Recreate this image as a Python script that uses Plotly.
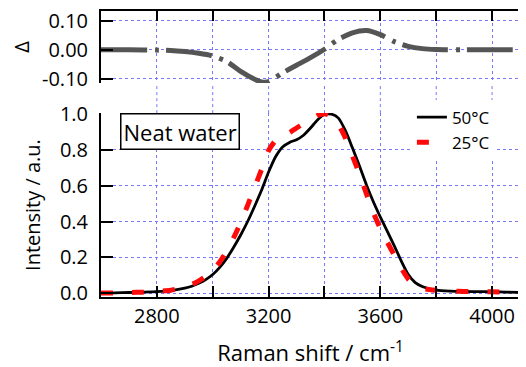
import plotly.graph_objects as go

# ---- data ----
shift_50 = [2600, 2650, 2700, 2750, 2800, 2850, 2900, 2925, 2950, 2975, 3000, 3025, 3050, 3075,
            3100, 3125, 3150, 3175, 3200, 3225, 3250, 3275, 3300, 3325, 3350, 3375, 3400, 3425,
            3450, 3475, 3500, 3525, 3550, 3575, 3600, 3625, 3650, 3675, 3700, 3725, 3750, 3775,
            3800, 3850, 3900, 3950, 4000, 4050, 4100]
int_50 = [0.002, 0.003, 0.005, 0.007, 0.010, 0.016, 0.029, 0.040, 0.056, 0.077, 0.105, 0.145,
          0.195, 0.257, 0.325, 0.400, 0.485, 0.575, 0.675, 0.760, 0.815, 0.840, 0.855, 0.880,
          0.920, 0.965, 0.995, 0.997, 0.975, 0.905, 0.810, 0.710, 0.605, 0.510, 0.425, 0.345,
          0.265, 0.180, 0.105, 0.060, 0.038, 0.026, 0.018, 0.013, 0.011, 0.010, 0.009, 0.007, 0.005]
int_25 = [0.002, 0.003, 0.005, 0.007, 0.011, 0.018, 0.035, 0.050, 0.070, 0.095, 0.127, 0.175,
          0.235, 0.310, 0.395, 0.490, 0.590, 0.690, 0.795, 0.850, 0.875, 0.895, 0.920, 0.945,
          0.965, 0.990, 1.000, 0.985, 0.940, 0.865, 0.765, 0.665, 0.555, 0.450, 0.360, 0.285,
          0.212, 0.140, 0.080, 0.045, 0.028, 0.021, 0.017, 0.013, 0.011, 0.010, 0.009, 0.007, 0.005]

shift_delta = [2600, 2700, 2800, 2850, 2900, 2950, 3000, 3050, 3100, 3150, 3175, 3200, 3250,
               3300, 3350, 3400, 3450, 3500, 3550, 3600, 3650, 3700, 3750, 3800, 3900, 4000, 4100]
delta = [0.0, 0.0, -0.001, -0.002, -0.006, -0.012, -0.021, -0.040, -0.074, -0.101, -0.110,
         -0.109, -0.079, -0.053, -0.027, 0.002, 0.036, 0.058, 0.066, 0.052, 0.028, 0.012,
         0.004, 0.001, 0.0, 0.0, 0.0]

x_grid = [2800, 3000, 3200, 3400, 3600, 3800, 4000]
y_ticks = [0.0, 0.2, 0.4, 0.6, 0.8, 1.0]
y_labels = ["0.0", "0.2", "0.4", "0.6", "0.8", "1.0"]
d_ticks = [-0.10, 0.0, 0.10]
d_labels = ["-0.10", "0.00", "0.10"]

FONT = "Open Sans"
GRID = "rgb(120,120,255)"
TICKSZ = 20

fig = go.Figure()
fig.add_trace(go.Scatter(x=shift_50, y=int_50, mode="lines", name="50°C",
                         line=dict(color="black", width=2.8, shape="spline", smoothing=0.6),
                         xaxis="x", yaxis="y"))
fig.add_trace(go.Scatter(x=shift_50, y=int_25, mode="lines", name="25°C",
                         line=dict(color="#ff0a0a", width=5, dash="12px,19px", shape="spline", smoothing=0.6),
                         xaxis="x", yaxis="y"))
fig.add_trace(go.Scatter(x=shift_delta, y=delta, mode="lines", showlegend=False,
                         line=dict(color="#555555", width=5, dash="46px,8px,4px,7px", shape="spline", smoothing=0.6),
                         xaxis="x2", yaxis="y2"))

bot_top = 0.643
top_bot = 0.748

# vertical gridlines bridging the gap between the two panels
for xv in x_grid:
    fig.add_shape(type="line", xref="x", yref="paper", x0=xv, x1=xv, y0=bot_top, y1=top_bot,
                  line=dict(color=GRID, width=1, dash="dot"), layer="below")

fig.add_annotation(text="Neat water", xref="paper", yref="paper", x=0.045, y=0.643,
                   xanchor="left", yanchor="top", showarrow=False,
                   font=dict(family=FONT, size=22, color="black"),
                   bordercolor="black", borderwidth=1.5, borderpad=2, bgcolor="white")

axis_common = dict(showline=True, linecolor="black", linewidth=2, ticks="inside",
                   tickcolor="black", tickwidth=2, showgrid=True, gridcolor=GRID,
                   griddash="dot", gridwidth=1, zeroline=False, automargin=False,
                   ticklabeloverflow="allow",
                   tickfont=dict(family=FONT, size=TICKSZ, color="black"))

minor_x = dict(dtick=200, tick0=2600, ticks="inside", ticklen=11, tickwidth=2, tickcolor="black",
               showgrid=True, gridcolor=GRID, griddash="dot", gridwidth=1)

# page body has an 8px margin: figure is sized so the plot sits where the reference has it
fig.update_layout(
    width=518, height=359,
    margin=dict(l=93, r=6, t=3, b=70),
    paper_bgcolor="white", plot_bgcolor="white",
    font=dict(family=FONT, color="black"),
    xaxis=dict(axis_common, domain=[0, 1], range=[2600, 4100], tick0=2800, dtick=400,
               ticklen=11, anchor="y", minor=minor_x,
               title=dict(text="Raman shift / cm<sup>-1</sup>", font=dict(family=FONT, size=22), standoff=21)),
    yaxis=dict(axis_common, domain=[0, bot_top], range=[-0.02, 1.003], tickmode="array",
               tickvals=y_ticks, ticktext=y_labels, ticklen=12, mirror=True, anchor="x",
               ticklabelstandoff=7,
               title=dict(text="Intensity / a.u.", font=dict(family=FONT, size=20), standoff=14)),
    xaxis2=dict(axis_common, domain=[0, 1], range=[2600, 4100], matches="x", tick0=2800,
                dtick=400, ticklen=10, side="top", anchor="y2", showticklabels=False,
                minor=dict(minor_x, ticklen=10)),
    yaxis2=dict(axis_common, domain=[top_bot, 1], range=[-0.114, 0.133], tickmode="array",
                tickvals=d_ticks, ticktext=d_labels, ticklen=12, mirror=True, anchor="x2",
                ticklabelstandoff=7,
                title=dict(text="Δ", font=dict(family=FONT, size=20), standoff=13)),
    legend=dict(x=0.742, y=0.69, xanchor="left", yanchor="top", bgcolor="white",
                borderwidth=0, font=dict(family=FONT, size=17, color="black"),
                tracegroupgap=0),
    showlegend=True,
)

fig.write_html("out.html")
